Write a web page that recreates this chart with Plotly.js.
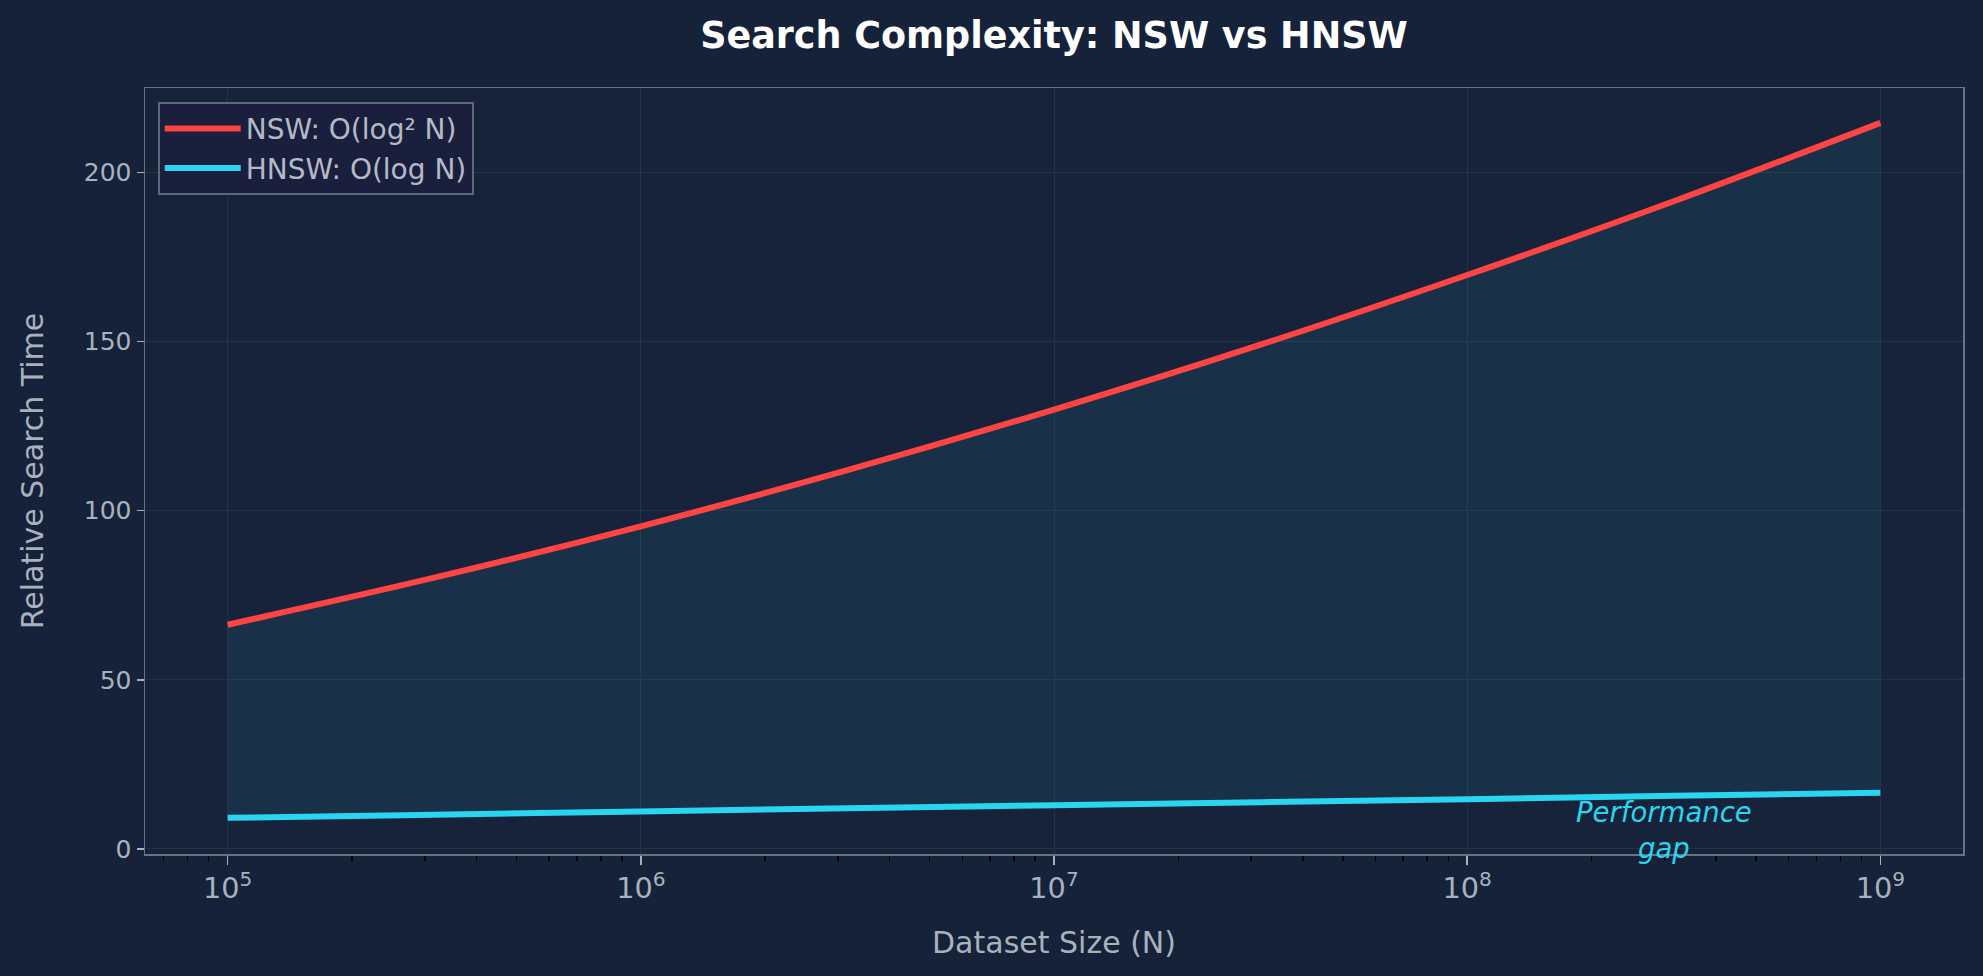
<!DOCTYPE html>
<html>
<head>
<meta charset="utf-8">
<script src="https://cdn.plot.ly/plotly-3.0.1.min.js"></script>
<style>
	html, body { margin: 0; padding: 0; background: #16213a; }
	#plot { width: 1983px; height: 976px; }
</style>
</head>
<body>
<div id="plot"></div>
<script>
// dataset sizes (half-decade steps) and values
const datasetSizes = [1e5, 3.162e5, 1e6, 3.162e6, 1e7, 3.162e7, 1e8, 3.162e8, 1e9];
const nswTime = [66.3, 80.2, 95.4, 112.0, 129.9, 149.1, 169.7, 191.5, 214.7];
const hnswTime = [9.2, 10.1, 11.1, 12.0, 12.9, 13.8, 14.7, 15.7, 16.6];

const nswLabel = "NSW: O(log² N)";
const hnswLabel = "HNSW: O(log N)";

const red = "#ff4444";
const cyan = "#2ad6ef";
const textGrey = "#a8b2bd";
const font = "DejaVu Sans, sans-serif";

const plotData = [
	{
		x: datasetSizes,
		y: hnswTime,
		type: "scatter",
		mode: "lines",
		line: { width: 0, shape: "spline" },
		showlegend: false,
		hoverinfo: "skip",
	},
	{
		x: datasetSizes,
		y: nswTime,
		type: "scatter",
		mode: "lines",
		line: { width: 0, shape: "spline" },
		fill: "tonexty",
		fillcolor: "rgba(40, 190, 225, 0.095)",
		showlegend: false,
		hoverinfo: "skip",
	},
	{
		x: datasetSizes,
		y: nswTime,
		type: "scatter",
		mode: "lines",
		name: nswLabel,
		line: { color: red, width: 6, shape: "spline" },
	},
	{
		x: datasetSizes,
		y: hnswTime,
		type: "scatter",
		mode: "lines",
		name: hnswLabel,
		line: { color: cyan, width: 6, shape: "spline" },
	},
];

const layout = {
	width: 1983,
	height: 976,
	margin: { l: 145, r: 20, t: 88, b: 122 },
	paper_bgcolor: "#16213a",
	plot_bgcolor: "#17233a",
	font: { family: font, color: textGrey, size: 22 },
	title: {
		text: "<b>Search Complexity: NSW vs HNSW</b>",
		font: { family: font, size: 36.5, color: "#ffffff" },
		x: 0.5315,
		xanchor: "center",
		y: 1 - 35 / 976,
		yanchor: "middle",
		yref: "container",
	},
	xaxis: {
		type: "log",
		range: [4.8, 9.2],
		dtick: 1,
		exponentformat: "power",
		showexponent: "all",
		tickfont: { size: 23, color: textGrey },
		ticks: "outside",
		ticklen: 9,
		tickwidth: 1.5,
		tickcolor: textGrey,
		minor: { ticks: "outside", ticklen: 5, tickwidth: 1.5, tickcolor: "#000000", dtick: "D1", showgrid: false },
		showgrid: true,
		gridcolor: "#253145",
		gridwidth: 1,
		showline: true,
		mirror: true,
		linecolor: "#6a7382",
		linewidth: 1.5,
		zeroline: false,
		title: { text: "Dataset Size (N)", font: { size: 30, color: textGrey }, standoff: 28 },
	},
	yaxis: {
		range: [-1.5, 225],
		dtick: 50,
		tickfont: { size: 25, color: textGrey },
		ticks: "outside",
		ticklen: 7,
		tickwidth: 1.5,
		tickcolor: textGrey,
		showgrid: true,
		gridcolor: "#253145",
		gridwidth: 1,
		showline: true,
		mirror: true,
		linecolor: "#6a7382",
		linewidth: 1.5,
		zeroline: false,
		title: { text: "Relative Search Time", font: { size: 30, color: textGrey }, standoff: 31 },
	},
	showlegend: true,
	legend: {
		x: 0.007,
		y: 0.982,
		xanchor: "left",
		yanchor: "top",
		bgcolor: "#1a1f3d",
		bordercolor: "#5f6675",
		borderwidth: 2,
		font: { size: 28, color: "#b3bac5" },
		itemwidth: 76,
		traceorder: "normal",
	},
	annotations: [
		{
			x: Math.log10(3e8),
			y: 5.5,
			xref: "x",
			yref: "y",
			text: "Performance<br>gap",
			showarrow: false,
			xanchor: "center",
			yanchor: "middle",
			font: { family: font, size: 27.5, color: cyan, style: "italic" },
		},
	],
};

Plotly.newPlot("plot", plotData, layout, { displayModeBar: false, staticPlot: true });
</script>
</body>
</html>
